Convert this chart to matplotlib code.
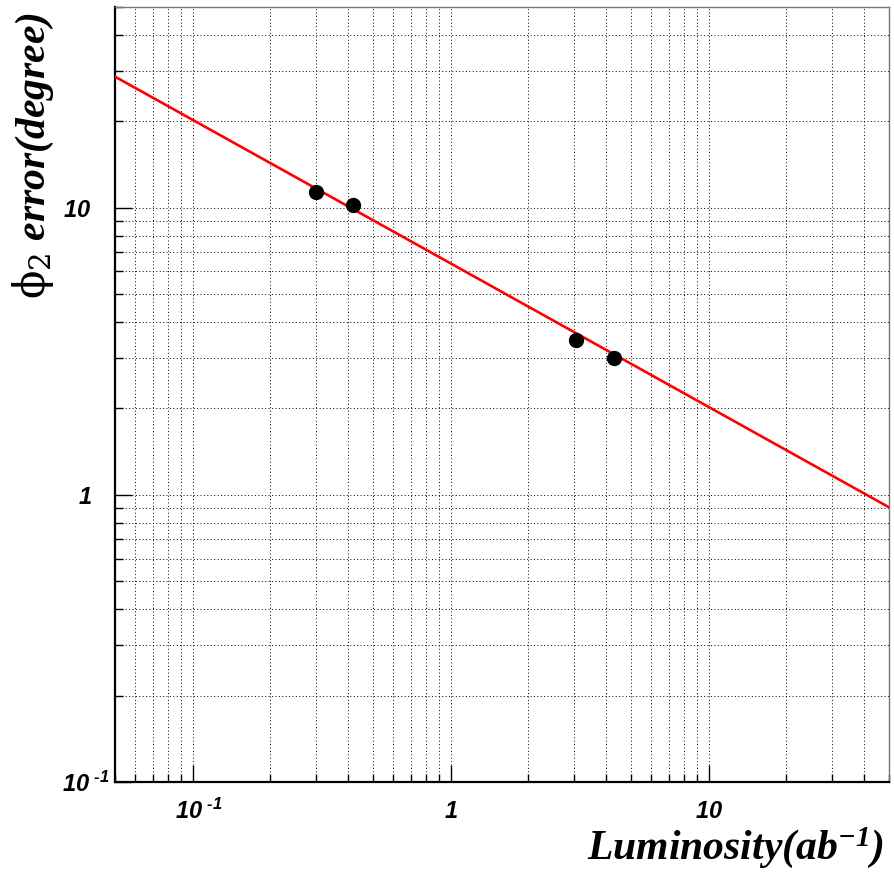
import numpy as np
import matplotlib.transforms as mtransforms
from matplotlib import pyplot as plt
from matplotlib.ticker import LogLocator, NullFormatter

# measured points (luminosity in ab^-1, phi2 error in degrees)
lumi = [0.30, 0.42, 3.05, 4.3]
phi2_err = [11.3, 10.2, 3.46, 3.0]

fit_lumi = [0.05, 50]
fit_err = [28.6, 0.905]

x_ticks = [0.1, 1, 10]
x_ticklabels = [r"$\mathrm{10^{\ \text{-}1}}$", r"$\mathrm{1}$", r"$\mathrm{10}$"]
y_ticks = [0.1, 1, 10]
y_ticklabels = [r"$\mathrm{10^{\ \text{-}1}}$", r"$\mathrm{1}$", r"$\mathrm{10}$"]

plt.rcParams["mathtext.fontset"] = "custom"
plt.rcParams["mathtext.rm"] = "Liberation Sans:italic:bold"
plt.rcParams["mathtext.bfit"] = "Liberation Serif:italic:bold"

fig = plt.figure(figsize=(8.94, 8.73), dpi=100)
ax = fig.add_axes([115 / 894, 1 - 782 / 873, 774 / 894, 775 / 873])

ax.plot(fit_lumi, fit_err, color="red", lw=1.9, zorder=3)
ax.plot(lumi, phi2_err, "o", color="black", ms=10, zorder=4)

ax.set_xscale("log")
ax.set_yscale("log")
ax.set_xlim(0.05, 50)
ax.set_ylim(0.1, 50)

ax.xaxis.set_minor_locator(LogLocator(base=10, subs=np.arange(2, 10)))
ax.yaxis.set_minor_locator(LogLocator(base=10, subs=np.arange(2, 10)))
ax.xaxis.set_minor_formatter(NullFormatter())
ax.yaxis.set_minor_formatter(NullFormatter())
ax.set_xticks(x_ticks)
ax.set_xticklabels(x_ticklabels)
ax.set_yticks(y_ticks)
ax.set_yticklabels(y_ticklabels)

ax.grid(True, which="both", color="black", ls=(0, (1, 2.5)), lw=0.7)
ax.tick_params(which="major", direction="in", length=12, width=1, labelsize=17, colors="black")
ax.tick_params(which="minor", direction="in", length=6, width=1)
ax.tick_params(axis="x", which="major", pad=12)
ax.tick_params(axis="y", which="major", pad=17)

# ROOT style: the exponent hangs past the "10", nudge those labels
shift_y = mtransforms.ScaledTranslation(18 / 100, 0, fig.dpi_scale_trans)
shift_x = mtransforms.ScaledTranslation(6 / 100, 0, fig.dpi_scale_trans)
ylab = ax.get_yticklabels()[0]
ylab.set_transform(ylab.get_transform() + shift_y)
xlab = ax.get_xticklabels()[0]
xlab.set_transform(xlab.get_transform() + shift_x)

for side in ["left", "bottom"]:
    ax.spines[side].set_linewidth(1.6)
for side in ["top", "right"]:
    ax.spines[side].set_linewidth(1.0)
    ax.spines[side].set_color("#777777")

fig.text(0.989, 0.003, r"Luminosity(ab$\mathbfit{^{-1}}$)", ha="right", va="bottom",
         fontsize=30, family="Liberation Serif", weight="bold", style="italic")
fig.text(0.012, 0.986, r"$\mathrm{\phi}_2$ error(degree)", rotation=90, ha="left", va="top",
         fontsize=30, family="Liberation Serif", weight="bold", style="italic",
         math_fontfamily="dejavuserif")

plt.savefig("out.png", dpi=100)
